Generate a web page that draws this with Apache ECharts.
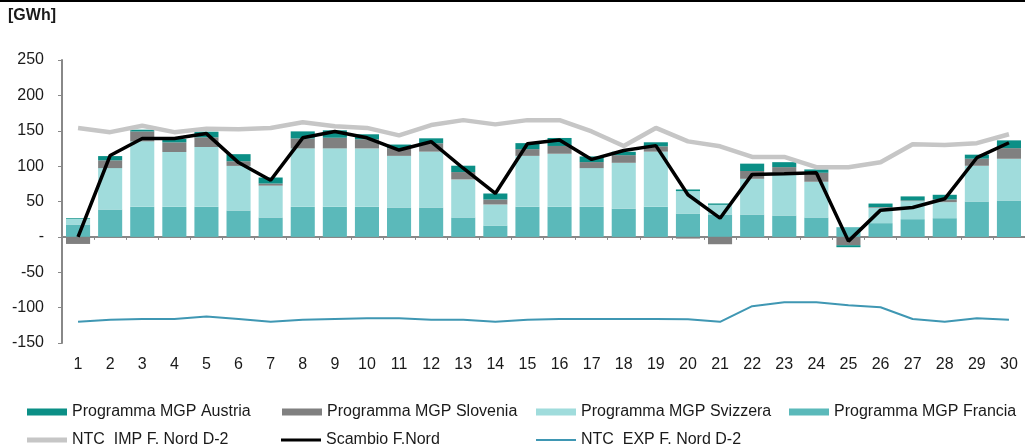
<!DOCTYPE html>
<html><head><meta charset="utf-8">
<script src="https://cdn.jsdelivr.net/npm/echarts@6/dist/echarts.min.js"></script>
<style>html,body{margin:0;padding:0;background:#fff}#c{width:1025px;height:448px}</style>
</head><body><div id="c"></div>
<script>
const categories = ['1','2','3','4','5','6','7','8','9','10','11','12','13','14','15','16','17','18','19','20','21','22','23','24','25','26','27','28','29','30'];
const francia  = [17.5, 38.7, 42.5, 42.5, 42.5, 37.3, 27.4, 42.5, 42.5, 42.5, 41.5, 41.5, 27.4, 16, 42.5, 42.5, 42.5, 40, 42.5, 33, 31.6, 31.6, 30.2, 27.4, 13.7, 19.4, 25, 26.4, 50, 51.4];
const svizzera = [8, 58.5, 92.5, 77.5, 84.5, 63, 45, 82.6, 82.6, 82.5, 73, 79, 53.8, 29.8, 72, 75, 54.7, 64.7, 78, 31.7, 13.7, 50.5, 60.4, 50.5, 0, 21.7, 25.5, 22.7, 50.5, 59];
const slovenia = [-10, 11, 14, 13.6, 13.7, 6.6, 3, 14, 15, 13, 11, 11.8, 10.4, 7, 9.5, 11, 8.5, 10.8, 7.5, -2.4, -10.4, 11, 8, 12.7, -11.8, 1, 1, 3.8, 10, 15];
const austria  = [1, 6, 2.5, 5, 8, 10, 8.5, 10, 10.5, 7, 5, 7, 9, 8.5, 8.5, 11.3, 8, 4.8, 5.7, 2.3, 1.9, 10.4, 7, 4.7, -2.8, 5, 5.7, 6.6, 5.7, 11];
const scambio  = [0, 115, 139, 139, 146, 105, 80, 140, 149, 140, 122.7, 134.5, 97, 61.4, 131.7, 137, 109.5, 122, 129, 59.5, 26.4, 88.3, 89.2, 90.6, -6, 37.8, 41.5, 53.8, 111.9, 133];
const ntcImp   = [154, 148, 157, 148, 153, 152, 154, 162, 156.5, 154, 143.5, 158, 165, 159, 165, 165, 149, 128.5, 154, 135, 128, 113, 113, 98.5, 98.5, 105.5, 131, 130, 132.5, 145];
const ntcExp   = [-120, -117, -116, -116, -112.5, -116, -120, -117, -116, -115, -115, -117, -117, -120, -117, -116, -116, -116, -116, -116.5, -120, -98, -92.5, -92.5, -96.5, -99.5, -116, -120, -115, -117];

const FONT = '"Liberation Sans", Arial, sans-serif';
const TXT = '#1a1a1a';
const C = {austria:'#0b8f86', slovenia:'#808080', svizzera:'#a0dcdc', francia:'#5bb9ba', imp:'#c6c6c6', sc:'#000000', exp:'#3f97b3'};

function leg(name, left, top, h) {
  return {data:[name], left:left, top:top, padding:0, icon:'rect', itemWidth:40, itemHeight:h, itemGap:0,
    selectedMode:false, textStyle:{fontFamily:FONT, fontSize:16, color:TXT, padding:[0,0,0,0]}};
}

const chart = echarts.init(document.getElementById('c'), null, {renderer:'canvas'});
chart.setOption({
  animation:false,
  backgroundColor:'#fff',
  graphic:[
    {type:'rect', shape:{x:0,y:0,width:1025,height:2}, style:{fill:'#000'}},
    {type:'text', left:8, top:8, style:{text:'[GWh]', font:'bold 16px "Liberation Sans", Arial, sans-serif', fill:TXT}}
  ],
  grid:{left:62, top:60, width:966, height:283, containLabel:false},
  legend:[
    leg('Programma MGP Austria', 27, 404, 7),
    leg('Programma MGP Slovenia', 282, 404, 7),
    leg('Programma MGP Svizzera', 536, 404, 7),
    leg('Programma MGP Francia', 789, 404, 7),
    leg('NTC  IMP F. Nord D-2', 27, 432, 5),
    leg('Scambio F.Nord', 281, 432, 3),
    leg('NTC  EXP F. Nord D-2', 536, 432, 2)
  ],
  xAxis:[
    {type:'category', data:categories, position:'bottom',
     axisLine:{onZero:true, lineStyle:{color:'#888', width:2}},
     axisTick:{show:true, length:3, lineStyle:{color:'#888'}},
     axisLabel:{show:false}},
    {type:'category', data:categories, position:'bottom',
     axisLine:{show:false, onZero:false}, axisTick:{show:false},
     axisLabel:{show:true, margin:14, fontFamily:FONT, fontSize:16, color:TXT}}
  ],
  yAxis:{type:'value', min:-150, max:250, interval:50,
    axisLine:{show:true, lineStyle:{color:'#888', width:2}},
    axisTick:{show:true, inside:false, length:4, lineStyle:{color:'#888'}},
    splitLine:{show:false},
    axisLabel:{margin:18, fontFamily:FONT, fontSize:16, color:TXT, formatter:v => v === 0 ? '-' : String(v)}},
  series:[
    {name:'Programma MGP Francia', type:'bar', stack:'s', data:francia, barCategoryGap:'25%', itemStyle:{color:C.francia}},
    {name:'Programma MGP Svizzera', type:'bar', stack:'s', data:svizzera, itemStyle:{color:C.svizzera}},
    {name:'Programma MGP Slovenia', type:'bar', stack:'s', data:slovenia, itemStyle:{color:C.slovenia}},
    {name:'Programma MGP Austria', type:'bar', stack:'s', data:austria, itemStyle:{color:C.austria}},
    {name:'NTC  IMP F. Nord D-2', type:'line', data:ntcImp, symbol:'none', lineStyle:{color:C.imp, width:4.5}, itemStyle:{color:C.imp}, z:3},
    {name:'NTC  EXP F. Nord D-2', type:'line', data:ntcExp, symbol:'none', lineStyle:{color:C.exp, width:2}, itemStyle:{color:C.exp}, z:3},
    {name:'Scambio F.Nord', type:'line', data:scambio, symbol:'none', lineStyle:{color:C.sc, width:3.5}, itemStyle:{color:C.sc}, z:4}
  ]
});
</script></body></html>
